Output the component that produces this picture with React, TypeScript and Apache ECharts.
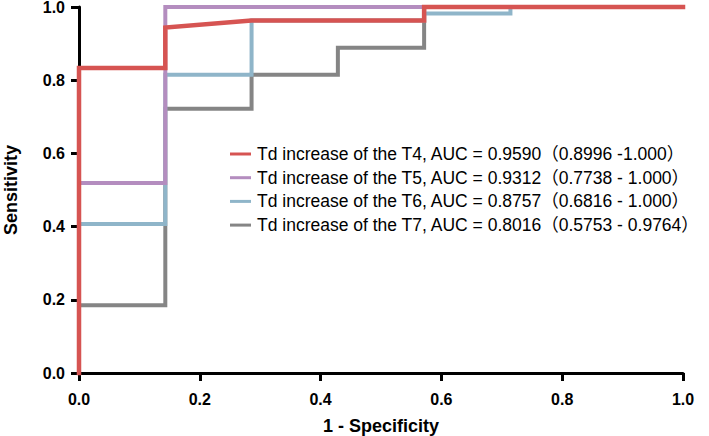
import React, { useEffect, useRef } from "react";
import * as echarts from "echarts";

const seriesNames = [
  "Td increase of the T4, AUC = 0.9590（0.8996 -1.000）",
  "Td increase of the T5, AUC = 0.9312（0.7738 - 1.000）",
  "Td increase of the T6, AUC = 0.8757（0.6816 - 1.000）",
  "Td increase of the T7, AUC = 0.8016（0.5753 - 0.9764）",
];
const seriesColors = ["#d65452", "#b48dbf", "#8fb5c9", "#858585"];

const t4: number[][] = [
  [0, 0], [0, 0.833], [0.1429, 0.833], [0.1429, 0.944], [0.2857, 0.963],
  [0.5714, 0.963], [0.5714, 1], [1, 1],
];
const t5: number[][] = [
  [0, 0], [0, 0.519], [0.1429, 0.519], [0.1429, 1], [1, 1],
];
const t6: number[][] = [
  [0, 0], [0, 0.407], [0.1429, 0.407], [0.1429, 0.815], [0.2857, 0.815],
  [0.2857, 0.963], [0.5714, 0.963], [0.5714, 0.982], [0.7143, 0.982],
  [0.7143, 1], [1, 1],
];
const t7: number[][] = [
  [0, 0], [0, 0.185], [0.1429, 0.185], [0.1429, 0.722], [0.2857, 0.722],
  [0.2857, 0.815], [0.4286, 0.815], [0.4286, 0.889], [0.5714, 0.889],
  [0.5714, 1], [1, 1],
];
const seriesData = [t4, t5, t6, t7];
const lineWidths = [4.5, 4, 4, 4];

const xTicks = [0, 0.2, 0.4, 0.6, 0.8, 1.0];
const yTicks = [0, 0.2, 0.4, 0.6, 0.8, 1.0];

const FONT = "'Liberation Sans', Arial, 'Noto Sans CJK SC', sans-serif";

export default function App() {
  const ref = useRef<HTMLDivElement>(null);
  useEffect(() => {
    if (!ref.current) return;
    const chart = echarts.init(ref.current, undefined, { renderer: "svg" });
    const axisCommon = {
      type: "value" as const,
      min: 0,
      max: 1,
      interval: 0.2,
      nameLocation: "middle" as const,
      nameTextStyle: { fontFamily: FONT, fontSize: 18, fontWeight: "bold", color: "#000" },
      axisLine: { show: true, lineStyle: { color: "#000", width: 3 } },
      axisTick: { show: true, length: 8, lineStyle: { color: "#000", width: 3 } },
      splitLine: { show: false },
    };
    const order = [3, 2, 1, 0];
    chart.setOption({
      animation: false,
      backgroundColor: "#fff",
      grid: { left: 79, right: 26, top: 7, bottom: 63, containLabel: false, outerBoundsMode: "none" },
      xAxis: {
        ...axisCommon,
        name: "1 - Specificity",
        nameGap: 44,
        axisLabel: {
          fontFamily: FONT, fontSize: 16, fontWeight: "bold", color: "#000", margin: 18,
          formatter: (v: number) => (xTicks.includes(Math.round(v * 10) / 10) ? v.toFixed(1) : ""),
        },
      },
      yAxis: {
        ...axisCommon,
        name: "Sensitivity",
        nameGap: 59,
        axisLabel: {
          fontFamily: FONT, fontSize: 16, fontWeight: "bold", color: "#000", margin: 14,
          formatter: (v: number) => (yTicks.includes(Math.round(v * 10) / 10) ? v.toFixed(1) : ""),
        },
      },
      legend: {
        orient: "vertical",
        left: 230,
        top: 145,
        padding: 0,
        itemWidth: 21,
        itemHeight: 3,
        itemGap: 5.7,
        icon: "rect",
        data: seriesNames.map((n, i) => ({ name: n, itemStyle: { color: seriesColors[i] } })),
        textStyle: { fontFamily: FONT, fontSize: 17.5, color: "#000", lineHeight: 18, padding: [0, 0, 0, 1] },
        selectedMode: false,
      },
      series: order.map((i) => ({
        type: "line",
        name: seriesNames[i],
        data: seriesData[i],
        showSymbol: false,
        symbol: "none",
        clip: false,
        color: seriesColors[i],
        lineStyle: { color: seriesColors[i], width: lineWidths[i], join: "miter", cap: "square" },
        z: 2 + (3 - i),
      })),
    });
    return () => chart.dispose();
  }, []);
  return <div ref={ref} style={{ width: 709, height: 436, position: "absolute", left: 0, top: 0 }} />;
}
